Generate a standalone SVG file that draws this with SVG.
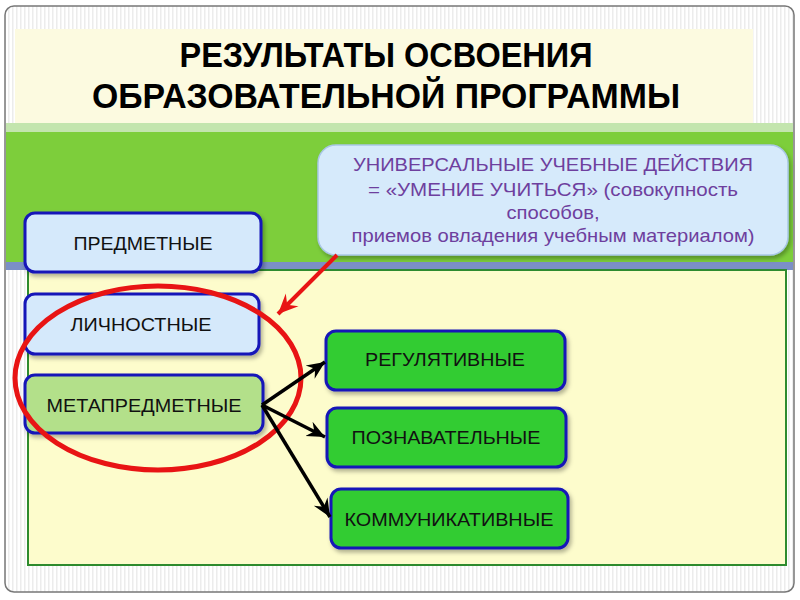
<svg xmlns="http://www.w3.org/2000/svg" width="800" height="600" viewBox="0 0 800 600">
<defs>
<pattern id="stripes" width="4" height="10" patternUnits="userSpaceOnUse">
<rect width="4" height="10" fill="#ffffff"/>
<rect width="1.5" height="10" fill="#ececec"/>
</pattern>
<filter id="sh" x="-10%" y="-10%" width="130%" height="140%">
<feDropShadow dx="2" dy="3" stdDeviation="2" flood-color="#000" flood-opacity="0.3"/>
</filter>
<marker id="ah" markerUnits="userSpaceOnUse" markerWidth="20" markerHeight="18" refX="18" refY="9" orient="auto">
<path d="M0,1 L18,9 L0,17 L6,9 Z" fill="#000"/>
</marker>
<marker id="ahr" markerUnits="userSpaceOnUse" markerWidth="22" markerHeight="20" refX="20" refY="10" orient="auto">
<path d="M0,1 L20,10 L0,19 L7,10 Z" fill="#e81414"/>
</marker>
<style>
.node rect{stroke:#1414b8;stroke-width:3}
.lbl{font-family:"Liberation Sans",Arial,sans-serif;font-size:19px;fill:#111;text-anchor:middle}
.blue{fill:#d5e9fb}
.meta{fill:#b3e08a}
.green{fill:#33cc33}
.call{font-family:"Liberation Sans",Arial,sans-serif;font-size:19px;fill:#6e3f9e;text-anchor:middle}
.title{font-family:"Liberation Sans",Arial,sans-serif;font-size:35px;font-weight:bold;fill:#000;text-anchor:middle}
.conn{stroke:#000;stroke-width:3.5;fill:none;marker-end:url(#ah)}
</style>
</defs>

<!-- frame -->
<rect x="5" y="6" width="789" height="586" rx="9" fill="url(#stripes)" stroke="#777" stroke-width="1.5"/>
<!-- title area -->
<rect x="15" y="29" width="738" height="94" fill="#fcfae0"/>
<text class="title" x="386" y="67" textLength="413" lengthAdjust="spacingAndGlyphs">РЕЗУЛЬТАТЫ ОСВОЕНИЯ</text>
<text class="title" x="386" y="108" textLength="588" lengthAdjust="spacingAndGlyphs">ОБРАЗОВАТЕЛЬНОЙ ПРОГРАММЫ</text>
<!-- bands -->
<rect x="6" y="123" width="787" height="9" fill="#c3e5ae"/>
<rect x="6" y="132" width="787" height="130" fill="#7dce3b"/>
<rect x="6" y="262" width="787" height="8" fill="#7b8fc6"/>
<rect x="28" y="270" width="758" height="295" fill="#fdfccc" stroke="#2e8b2e" stroke-width="2"/>

<!-- callout -->
<g id="callout">
<rect x="318" y="145" width="470" height="110" rx="18" fill="#d6eafb" stroke="#a9c7e6" stroke-width="1.5" filter="url(#sh)"/>
<text class="call" x="553" y="171" textLength="400" lengthAdjust="spacingAndGlyphs">УНИВЕРСАЛЬНЫЕ УЧЕБНЫЕ ДЕЙСТВИЯ</text>
<text class="call" x="553" y="196" textLength="370" lengthAdjust="spacingAndGlyphs">= «УМЕНИЕ УЧИТЬСЯ» (совокупность</text>
<text class="call" x="553" y="219" textLength="93" lengthAdjust="spacingAndGlyphs">способов,</text>
<text class="call" x="553" y="242" textLength="403" lengthAdjust="spacingAndGlyphs">приемов овладения учебным материалом)</text>
</g>

<g id="n-predmet" class="node">
<rect class="blue" x="25" y="213" width="236" height="59" rx="10" filter="url(#sh)"/>
<text class="lbl" x="143" y="250" textLength="139" lengthAdjust="spacingAndGlyphs">ПРЕДМЕТНЫЕ</text>
</g>
<g id="n-lichnost" class="node">
<rect class="blue" x="25" y="294" width="234" height="60" rx="10" filter="url(#sh)"/>
<text class="lbl" x="141" y="331" textLength="141" lengthAdjust="spacingAndGlyphs">ЛИЧНОСТНЫЕ</text>
</g>
<g id="n-meta" class="node">
<rect class="meta" x="25" y="375" width="238" height="58" rx="10" filter="url(#sh)"/>
<text class="lbl" x="144" y="412" textLength="195" lengthAdjust="spacingAndGlyphs">МЕТАПРЕДМЕТНЫЕ</text>
</g>
<g id="n-reg" class="node">
<rect class="green" x="326" y="331" width="239" height="59" rx="10" filter="url(#sh)"/>
<text class="lbl" x="445" y="366" textLength="160" lengthAdjust="spacingAndGlyphs">РЕГУЛЯТИВНЫЕ</text>
</g>
<g id="n-pozn" class="node">
<rect class="green" x="327" y="408" width="239" height="59" rx="10" filter="url(#sh)"/>
<text class="lbl" x="446" y="444" textLength="189" lengthAdjust="spacingAndGlyphs">ПОЗНАВАТЕЛЬНЫЕ</text>
</g>
<g id="n-komm" class="node">
<rect class="green" x="331" y="489" width="237" height="59" rx="10" filter="url(#sh)"/>
<text class="lbl" x="449" y="526" textLength="209" lengthAdjust="spacingAndGlyphs">КОММУНИКАТИВНЫЕ</text>
</g>

<g id="connectors">
<ellipse cx="158" cy="378" rx="143" ry="92" fill="none" stroke="#e81414" stroke-width="5"/>
<line x1="337" y1="255" x2="278" y2="314" stroke="#e81414" stroke-width="4" marker-end="url(#ahr)"/>
<line class="conn" x1="262" y1="405" x2="325" y2="362"/>
<line class="conn" x1="262" y1="405" x2="325" y2="437"/>
<line class="conn" x1="262" y1="405" x2="330" y2="517"/>
</g>
</svg>
